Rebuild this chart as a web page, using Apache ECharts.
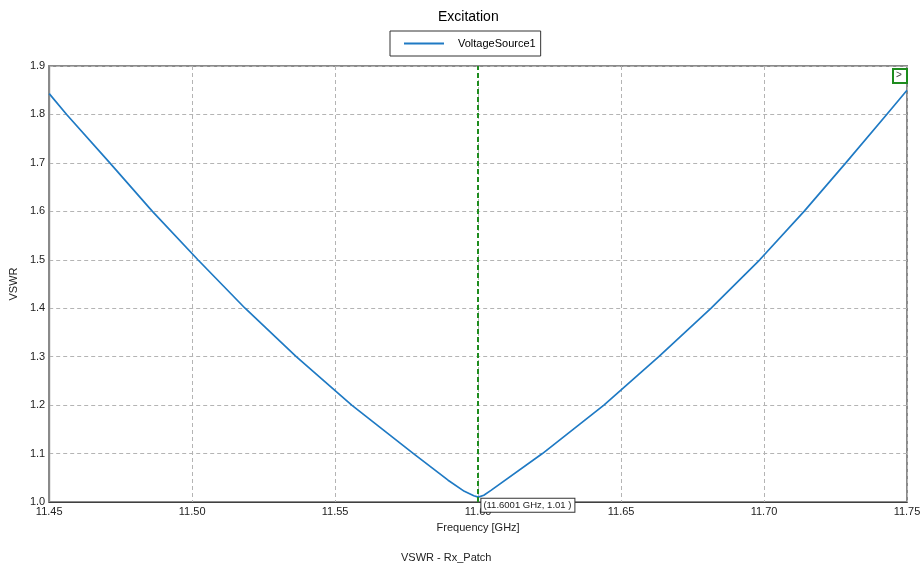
<!DOCTYPE html>
<html>
<head>
<meta charset="utf-8">
<script src="https://cdn.jsdelivr.net/npm/echarts@6/dist/echarts.min.js"></script>
<style>html,body{margin:0;padding:0;background:#fff}#c{width:924px;height:565px}</style>
</head>
<body>
<div id="c"></div>
<script>
// Data
var freqGHz = [11.45, 11.4561, 11.4712, 11.4861, 11.5020, 11.5185, 11.5364, 11.5558, 11.5774, 11.5895, 11.5952, 11.5985, 11.6001, 11.6020, 11.6045, 11.6225, 11.6440, 11.6632, 11.6815, 11.6985, 11.7140, 11.7286, 11.7429, 11.75];
var vswr    = [1.843, 1.800, 1.700, 1.600, 1.500, 1.400, 1.300, 1.200, 1.100, 1.045, 1.022, 1.013, 1.010, 1.014, 1.024, 1.100, 1.200, 1.300, 1.400, 1.500, 1.600, 1.700, 1.800, 1.850];
var markerFreq = 11.6001;
var markerVal = 1.01;
var seriesName = 'VoltageSource1';
var xTicks = [11.45, 11.50, 11.55, 11.60, 11.65, 11.70, 11.75];
var yTicks = [1.0, 1.1, 1.2, 1.3, 1.4, 1.5, 1.6, 1.7, 1.8, 1.9];

var FONT = '"Liberation Sans", Arial, sans-serif';
var chart = echarts.init(document.getElementById('c'), null, {renderer: 'canvas'});
var pts = freqGHz.map(function (f, i) { return [f, vswr[i]]; });

chart.setOption({
  animation: false,
  backgroundColor: '#fff',
  textStyle: {fontFamily: FONT},
  title: [
    {text: 'Excitation', left: 433, top: 5, textStyle: {fontFamily: FONT, fontSize: 14, fontWeight: 'normal', color: '#000'}},
    {text: 'VSWR - Rx_Patch', left: 396, top: 547, textStyle: {fontFamily: FONT, fontSize: 11, fontWeight: 'normal', color: '#222'}}
  ],
  legend: {
    left: 390, top: 31,
    padding: [7, 5, 7, 14],
    borderColor: '#333', borderWidth: 1,
    icon: 'rect',
    itemWidth: 40, itemHeight: 2,
    textStyle: {fontFamily: FONT, fontSize: 11, color: '#000', padding: [0, 0, 0, 9]},
    data: [seriesName]
  },
  grid: {left: 47, right: 17, top: 66, bottom: 63, show: true, borderColor: '#8a8a8a', borderWidth: 2, containLabel: false},
  xAxis: {
    type: 'value', min: xTicks[0], max: xTicks[xTicks.length - 1], interval: 0.05,
    name: 'Frequency [GHz]', nameLocation: 'middle', nameGap: 20,
    nameTextStyle: {fontFamily: FONT, fontSize: 11, color: '#222'},
    axisLine: {lineStyle: {color: '#404040', width: 1}},
    axisTick: {show: false},
    axisLabel: {fontFamily: FONT, fontSize: 11, color: '#222', margin: 4, formatter: function (v) { return v.toFixed(2); }},
    splitLine: {show: true, lineStyle: {color: '#b4b4b4', type: [4, 3], width: 1}}
  },
  yAxis: {
    type: 'value', min: yTicks[0], max: yTicks[yTicks.length - 1], interval: 0.1,
    name: 'VSWR', nameLocation: 'middle', nameGap: 28,
    nameTextStyle: {fontFamily: FONT, fontSize: 11, color: '#222'},
    axisLine: {show: true, lineStyle: {color: '#8a8a8a', width: 2}},
    axisTick: {show: false},
    axisLabel: {fontFamily: FONT, fontSize: 11, color: '#222', margin: 4, formatter: function (v) { return v.toFixed(1); }},
    splitLine: {show: true, lineStyle: {color: '#b4b4b4', type: [4, 3], width: 1}}
  },
  series: [{
    name: seriesName,
    type: 'line',
    symbol: 'none',
    smooth: false,
    data: pts,
    lineStyle: {color: '#1f7ac4', width: 1.7},
    itemStyle: {color: '#1f7ac4'},
    markLine: {
      silent: true, symbol: 'none',
      label: {show: false},
      lineStyle: {color: '#1e8c1e', type: [5, 3], width: 2},
      data: [{xAxis: markerFreq}]
    },
    markPoint: {
      silent: true,
      symbol: 'rect', symbolSize: 0,
      data: [{coord: [markerFreq, markerVal]}],
      label: {
        show: true, position: 'right', distance: 0, offset: [3, 8],
        formatter: '(' + markerFreq.toFixed(4) + ' GHz, ' + markerVal.toFixed(2) + ' )',
        fontFamily: FONT, fontSize: 9.5, color: '#222',
        backgroundColor: '#fff', borderColor: '#333', borderWidth: 1,
        padding: [2, 3, 1, 2]
      }
    }
  }],
  graphic: [
    {type: 'rect', left: 892, top: 68, shape: {width: 14, height: 14}, style: {fill: '#fff', stroke: '#1e8c1e', lineWidth: 2}, z: 100},
    {type: 'text', left: 896, top: 70, style: {text: '>', fill: '#444', font: '10px ' + FONT}, z: 101}
  ]
});
</script>
</body>
</html>
